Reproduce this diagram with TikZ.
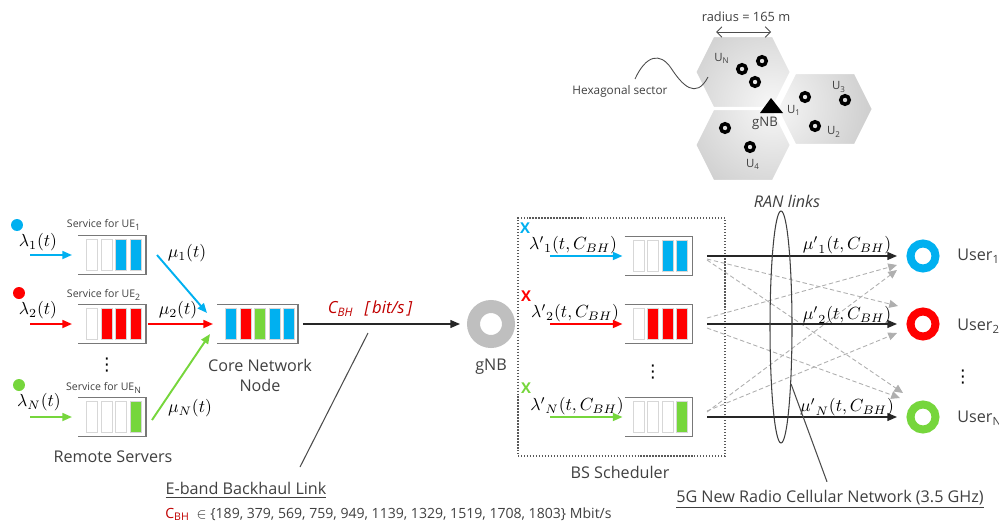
\documentclass[tikz,border=0pt]{standalone}
\usepackage{amsmath}
\usepackage[no-math]{fontspec}
\setmainfont{Open Sans}
\newfontfamily\dotsfont{DejaVu Sans}
\definecolor{ueblue}{RGB}{0,176,240}
\definecolor{uered}{RGB}{255,0,0}
\definecolor{uegreen}{RGB}{118,214,60}
\definecolor{qgray}{RGB}{120,120,120}
\definecolor{slotgray}{RGB}{215,215,215}
\definecolor{ringgray}{RGB}{191,191,191}
\definecolor{cbhred}{RGB}{192,0,0}
\definecolor{txtgray}{RGB}{64,64,64}
\definecolor{linkgray}{RGB}{175,175,175}
\usetikzlibrary{arrows.meta,positioning,shapes.geometric,calc}

\newcommand{\queueslots}[2]{%
  \draw[qframe] (#1.north west) -- (#1.north east) -- (#1.south east) -- (#1.south west);
  \foreach \c [count=\i from 0] in {#2}
    \filldraw[draw=slotgray, line width=0.4pt, fill=\c]
      ($(#1.north west)+(8.5+14.5*\i,4)$) rectangle +(11,31);
}

\begin{document}
\begin{tikzpicture}[x=0.02cm, y=-0.02cm,
  lbl/.style={font=\fontsize{9.2}{11}\selectfont, text=txtgray, inner sep=1pt},
  svclbl/.style={font=\fontsize{6}{7}\selectfont, text=txtgray, inner sep=0.5pt},
  hexlbl/.style={font=\fontsize{6.5}{7.5}\selectfont, text=txtgray, inner sep=0.5pt},
  rate/.style={font=\fontsize{10}{12}\selectfont, inner sep=0.5pt},
  vdotlbl/.style={font=\dotsfont\fontsize{10}{11}\selectfont, inner sep=0},
  qbox/.style={rectangle, minimum width=1.36cm, minimum height=0.78cm, inner sep=0, outer sep=0},
  qframe/.style={draw=qgray, line width=1pt},
  srcdot/.style={circle, minimum size=0.24cm, inner sep=0},
  xmark/.style={font=\fontsize{8.5}{9}\selectfont\bfseries, inner sep=0},
  flow/.style={-{Triangle[length=5.5pt,width=4.5pt]}, line width=1.1pt},
  link/.style={-{Triangle[length=5.5pt,width=4.5pt]}, line width=0.8pt, draw=black!85},
  xlink/.style={-{Triangle[length=5pt,width=4.5pt]}, dash pattern=on 2.5pt off 1.5pt, line width=0.5pt, draw=linkgray},
  ring/.style={circle, inner sep=0, outer sep=0, minimum size=0.5cm, line width=0.16cm},
  leader/.style={draw=black!70, line width=0.6pt},
  hexring/.style={draw=black, line width=0.07cm}
]
\useasboundingbox (0,0) rectangle (999,527);

% cell layout
\begin{scope}
  \clip (695,72) -- (713,36) -- (773,36) -- (791,72) -- (773,108) -- (713,108) -- cycle
        (777,109) -- (795,73) -- (855,73) -- (873,109) -- (855,145) -- (795,145) -- cycle
        (695,145) -- (713,109) -- (773,109) -- (791,145) -- (773,181) -- (713,181) -- cycle;
  \shade[inner color=gray!6, outer color=gray!45] (772,106) circle (2.4cm);
\end{scope}
\draw[white, line width=1.4pt]
  (695,72) -- (713,36) -- (773,36) -- (791,72) -- (773,108) -- (713,108) -- cycle
  (777,109) -- (795,73) -- (855,73) -- (873,109) -- (855,145) -- (795,145) -- cycle
  (695,145) -- (713,109) -- (773,109) -- (791,145) -- (773,181) -- (713,181) -- cycle;
\fill (771,98) -- (760,113) -- (783,113) -- cycle;
\foreach \p in {(762,61),(742,69),(755,82),(805,97),(845,100),(815,126),(725,128),(750,147)}
  \draw[hexring] \p circle (0.085cm);
\node[hexlbl] (uN) at (722,58) {U\textsubscript{N}};
\node[hexlbl] (u1) at (794,110) {U\textsubscript{1}};
\node[hexlbl] (u3) at (839,87) {U\textsubscript{3}};
\node[hexlbl] (u2) at (834,132) {U\textsubscript{2}};
\node[hexlbl] (u4) at (753,164) {U\textsubscript{4}};
\node[hexlbl, font=\fontsize{7.5}{8}\selectfont] (cellgnb) at (765,123) {gNB};
\node[hexlbl, font=\fontsize{7.3}{8}\selectfont] (radius) at (746,17) {radius = 165 m};
\draw[{Straight Barb[length=3pt]}-{Straight Barb[length=3pt]}, draw=black!70, line width=0.5pt] (716,32) -- (771,32);
\node[hexlbl, font=\fontsize{6.7}{8}\selectfont] (hexsec) at (620,91) {Hexagonal sector};
\draw[leader, line width=0.5pt] (635,79) .. controls (646,55) and (660,52) .. (671,68)
  .. controls (682,85) and (696,100) .. (708,77);

% remote servers
\node[srcdot, fill=ueblue] (src1) at (17,225) {};
\node[srcdot, fill=uered] (src2) at (19,293) {};
\node[srcdot, fill=uegreen] (srcN) at (19,385) {};
\node[rate] (lam1) at (38,242) {$\lambda_1(t)$};
\node[rate] (lam2) at (38,310) {$\lambda_2(t)$};
\node[rate] (lamN) at (39,402) {$\lambda_N(t)$};
\node[svclbl] (svc1) at (104,225) {Service for UE\textsubscript{1}};
\node[svclbl] (svc2) at (104,295) {Service for UE\textsubscript{2}};
\node[svclbl] (svcN) at (104,388) {Service for UE\textsubscript{N}};
\node[qbox] (sq1) at (112,255) {};
\node[qbox] (sq2) at (112,324) {};
\node[qbox] (sqN) at (112,417) {};
\queueslots{sq1}{white,white,ueblue,ueblue}
\queueslots{sq2}{white,uered,uered,uered}
\queueslots{sqN}{white,white,white,uegreen}
\coordinate (lam1s) at (30,255);
\coordinate (lam2s) at (30,324);
\coordinate (lamNs) at (30,417);
\draw[flow, ueblue, shorten >=0.12cm] (lam1s) -- (sq1.west);
\draw[flow, uered, shorten >=0.12cm] (lam2s) -- (sq2.west);
\draw[flow, uegreen, shorten >=0.12cm] (lamNs) -- (sqN.west);
\node[vdotlbl] (vdl) at (107,365) {⋮};
\node[lbl] (remote) at (113,457) {Remote Servers};

% core network
\node[qbox, minimum width=1.62cm] (core) at (257.5,324) {};
\queueslots{core}{ueblue,uered,uegreen,ueblue,ueblue}
\node[lbl, font=\fontsize{9.2}{11.4}\selectfont, align=center] (corelbl) at (260,375) {Core Network\\Node};
\draw[flow, ueblue] ([shift={(11,0)}]sq1.east) -- ([shift={(-10,-11)}]core.west);
\draw[flow, uered] ([shift={(2,0)}]sq2.east) -- ([shift={(-4,0)}]core.west);
\draw[flow, uegreen] ([shift={(6,3)}]sqN.east) -- ([shift={(-7,10)}]core.west);
\node[rate] (mu1) at (187,253) {$\mu_1(t)$};
\node[rate] (mu2) at (178,310) {$\mu_2(t)$};
\node[rate] (muN) at (190,408) {$\mu_N(t)$};

% backhaul
\node[ring, draw=ringgray, minimum size=0.7cm, line width=0.26cm] (gnb) at (491,324) {};
\node[lbl] (gnblbl) at (491,367) {gNB};
\draw[link, shorten <=0.1cm, shorten >=0.27cm] (core.east) -- (gnb);
\node[font=\fontsize{9.5}{11}\selectfont\itshape, text=cbhred, inner sep=0] (cbh) at (370,309) {C\textsubscript{BH}\enspace\,[\,bit/s\,]};
\coordinate (bhtap) at (368,333);
\coordinate (bhfoot) at (300,467);
\draw[leader] (bhtap) -- (bhfoot);
\node[lbl] (eband) at (246,490) {\underline{E-band Backhaul Link}};
\node[font=\fontsize{8}{9}\selectfont, text=txtgray, anchor=west, inner sep=0] (cbhset) at (165,514)
  {{\color{cbhred}C\textsubscript{BH}}\enspace$\in$ \{189, 379, 569, 759, 949, 1139, 1329, 1519, 1708, 1803\} Mbit/s};

% BS scheduler
\node[draw=black!65, densely dotted, line width=0.7pt, minimum width=4.14cm, minimum height=4.76cm, inner sep=0] (sched) at (621.5,337) {};
\node[lbl] (schedlbl) at (620,472) {BS Scheduler};
\node[xmark, text=ueblue] (x1) at (525,228) {X};
\node[xmark, text=uered] (x2) at (526,296) {X};
\node[xmark, text=uegreen] (xN) at (526,388) {X};
\node[rate] (lp1) at (573,245) {${\lambda'}_{1}(t,C_{BH})$};
\node[rate] (lp2) at (575,313) {${\lambda'}_{2}(t,C_{BH})$};
\node[rate] (lpN) at (577,406) {${\lambda'}_{N}(t,C_{BH})$};
\node[qbox] (bq1) at (658.5,256) {};
\node[qbox] (bq2) at (658.5,324) {};
\node[qbox] (bqN) at (658.5,417) {};
\queueslots{bq1}{white,white,ueblue,ueblue}
\queueslots{bq2}{white,uered,uered,uered}
\queueslots{bqN}{white,white,white,uegreen}
\coordinate (lp1s) at (550,256);
\coordinate (lp2s) at (550,324);
\coordinate (lpNs) at (550,417);
\draw[flow, ueblue, shorten >=0.04cm] (lp1s) -- (bq1.west);
\draw[flow, uered, shorten >=0.04cm] (lp2s) -- (bq2.west);
\draw[flow, uegreen, shorten >=0.04cm] (lpNs) -- (bqN.west);
\node[vdotlbl] (vdm) at (653,372) {⋮};

% RAN links and users
\node[ring, draw=ueblue] (user1) at (923,256) {};
\node[ring, draw=uered] (user2) at (923,324) {};
\node[ring, draw=uegreen] (userN) at (923,417) {};
\node[lbl, anchor=west, inner sep=0] (user1lbl) at (957,256) {User\textsubscript{1}};
\node[lbl, anchor=west, inner sep=0] (user2lbl) at (957,326) {User\textsubscript{2}};
\node[lbl, anchor=west, inner sep=0] (userNlbl) at (957,418) {User\textsubscript{N}};
\node[vdotlbl] (vdr) at (963,377) {⋮};
\coordinate (r1) at (707,256);
\coordinate (r2) at (707,324);
\coordinate (rN) at (707,417);
\draw[xlink] ($(r1)+(0,3)$) -- ($(user2)+(-25,-18)$);
\draw[xlink] ($(r1)+(0,4)$) -- ($(userN)+(-20,-24)$);
\draw[xlink] ($(r2)+(0,-6)$) -- ($(user1)+(-26,9)$);
\draw[xlink] ($(r2)+(0,4)$) -- ($(userN)+(-23,-19)$);
\draw[xlink] ($(rN)+(0,-5)$) -- ($(user1)+(-26,14)$);
\draw[xlink] ($(rN)+(0,-6)$) -- ($(user2)+(-26,9)$);
\draw[link, shorten >=0.27cm] (r1) -- (user1);
\draw[link, shorten >=0.27cm] (r2) -- (user2);
\draw[link, shorten >=0.27cm] (rN) -- (userN);
\node[rate] (mp1) at (847,245) {${\mu'}_{1}(t,C_{BH})$};
\node[rate] (mp2) at (847,315) {${\mu'}_{2}(t,C_{BH})$};
\node[rate] (mpN) at (847,407) {${\mu'}_{N}(t,C_{BH})$};
\node[ellipse, draw=black!75, line width=0.6pt, minimum width=0.44cm, minimum height=4.64cm, inner sep=0] (ranell) at (781,327) {};
\node[lbl, font=\fontsize{9.2}{11}\selectfont\itshape] (ranlbl) at (787,201) {RAN links};
\node[lbl] (nrlbl) at (830,499) {\underline{5G New Radio Cellular Network (3.5 GHz)}};
\draw[leader] (ranell.-80) -- ([shift={(-3,-6)}]nrlbl.north);
\end{tikzpicture}
\end{document}
